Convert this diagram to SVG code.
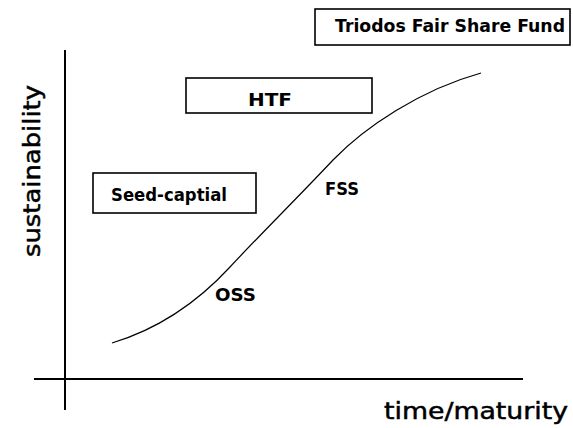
<svg xmlns="http://www.w3.org/2000/svg" width="573" height="428" viewBox="0 0 573 428">
<style>
.box{fill:#fff;stroke:#000;stroke-width:1.6}
.lbl{font-family:"DejaVu Sans","Liberation Sans",sans-serif;font-weight:bold;font-size:17px;fill:#000}
.ax{font-family:"DejaVu Sans","Liberation Sans",sans-serif;font-size:23px;fill:#000;stroke:#000;stroke-width:0.5}
.axis{stroke:#000;stroke-width:2;fill:none}
.curve{stroke:#000;stroke-width:1.2;fill:none}
</style>
<rect width="573" height="428" fill="#fff"/>
<g id="axes">
<line class="axis" x1="65" y1="50" x2="65" y2="410"/>
<line class="axis" x1="34" y1="379" x2="523" y2="379"/>
<text class="ax" x="384" y="419" textLength="184" lengthAdjust="spacingAndGlyphs">time/maturity</text>
<text class="ax" transform="translate(40,171) rotate(-90)" text-anchor="middle" textLength="172" lengthAdjust="spacingAndGlyphs">sustainability</text>
</g>
<g id="connectors">
<path class="curve" d="M112,343 C155,330 195,305 230,267 C255,240 305,190 333,160 C365,127 420,90 481,73"/>
</g>
<g id="triodos">
<rect class="box" x="315" y="9" width="255" height="36"/>
<text class="lbl" x="335" y="32" textLength="230" lengthAdjust="spacingAndGlyphs">Triodos Fair Share Fund</text>
</g>
<g id="htf">
<rect class="box" x="186" y="78" width="186" height="35"/>
<text class="lbl" x="248" y="106" textLength="44" lengthAdjust="spacingAndGlyphs">HTF</text>
</g>
<g id="seed">
<rect class="box" x="93" y="173" width="163" height="40"/>
<text class="lbl" x="111" y="201" textLength="116" lengthAdjust="spacingAndGlyphs">Seed-captial</text>
</g>
<g id="fss">
<text class="lbl" x="325" y="195" textLength="34" lengthAdjust="spacingAndGlyphs">FSS</text>
</g>
<g id="oss">
<text class="lbl" x="215" y="301" textLength="41" lengthAdjust="spacingAndGlyphs">OSS</text>
</g>
</svg>
